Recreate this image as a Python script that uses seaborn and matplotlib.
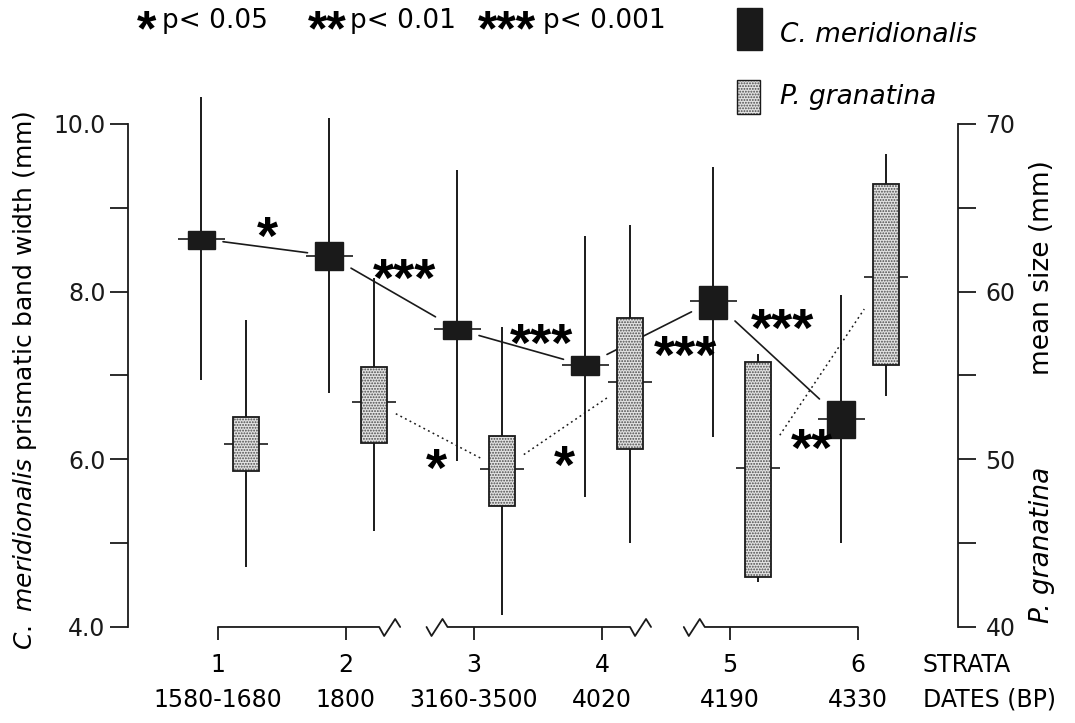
import matplotlib
matplotlib.use("Agg")
import matplotlib.pyplot as plt
import matplotlib.transforms as mtransforms
from matplotlib.patches import Rectangle
import seaborn as sns
import numpy as np

# strata and radiocarbon dates
strata = [1, 2, 3, 4, 5, 6]
dates = ["1580-1680", "1800", "3160-3500", "4020", "4190", "4330"]

# C. meridionalis prismatic band width (mm), left axis
cm_mean = [8.63, 8.43, 7.55, 7.12, 7.89, 6.48]
cm_low = [8.51, 8.26, 7.44, 7.01, 7.67, 6.25]
cm_high = [8.72, 8.59, 7.65, 7.23, 8.07, 6.70]
cm_min = [6.95, 6.79, 5.98, 5.55, 6.27, 5.00]
cm_max = [10.32, 10.07, 9.45, 8.66, 9.49, 7.96]

# P. granatina mean size (mm), right axis
pg_mean = [50.9, 53.4, 49.4, 54.6, 49.5, 60.9]
pg_low = [49.3, 51.0, 47.2, 50.6, 43.0, 55.6]
pg_high = [52.5, 55.5, 51.4, 58.4, 55.8, 66.4]
pg_min = [43.6, 45.7, 40.7, 45.0, 42.7, 53.8]
pg_max = [58.3, 60.8, 57.9, 64.0, 56.3, 68.2]

# significant differences between successive strata
cm_links = [(1, 2), (2, 3), (3, 4), (4, 5), (5, 6)]
pg_links = [(2, 3), (3, 4), (5, 6)]
sig_x = [1.39, 2.46, 2.71, 3.53, 3.71, 4.65, 5.41, 5.64]
sig_y = [8.76, 8.26, 5.99, 7.48, 6.03, 7.34, 7.66, 6.23]
sig_text = ["*", "***", "*", "***", "*", "***", "***", "**"]

sns.set_theme(style="ticks")
plt.rcParams["font.family"] = ["DejaVu Sans"]
plt.rcParams["mathtext.fontset"] = "dejavusans"
plt.rcParams["hatch.linewidth"] = 0.9
plt.rcParams["text.color"] = "black"
plt.rcParams["axes.labelcolor"] = "black"

STAR_FONT = ["Liberation Sans", "DejaVu Sans"]


def star(ax, x, y, text, size, **kw):
    # asterisks sit high in the em box: drop the baseline so the glyph centres on (x, y)
    return ax.annotate(text, (x, y), xytext=(0, -0.48 * size), textcoords="offset points",
                       ha=kw.pop("ha", "center"), va="baseline", fontsize=size, color="black",
                       fontweight="bold", family=STAR_FONT, annotation_clip=False, **kw)


fig = plt.figure(figsize=(10.75, 7.23), dpi=100)
ax = fig.add_axes([0.119, 0.1328, 0.772, 0.6957])
ax2 = ax.twinx()
ax.set_xlim(0.297, 6.781)
ax.set_ylim(4, 10)
ax2.set_ylim(40, 70)

cm_off, pg_off = -0.13, 0.22
cm_w, pg_w = 0.215, 0.205
gap = 0.17
stipple = "#e2e2e2"

# C. meridionalis: whiskers, filled boxes, mean ticks
cm_x = np.array(strata) + cm_off
ax.vlines(cm_x, cm_min, cm_max, color="k", lw=1.4, zorder=2, clip_on=False)
for x, lo, hi, m in zip(cm_x, cm_low, cm_high, cm_mean):
    ax.add_patch(Rectangle((x - cm_w / 2, lo), cm_w, hi - lo, fc="k", ec="k", lw=1, zorder=3))
    ax.hlines(m, x - 0.185, x + 0.185, color="k", lw=1.2, zorder=3)
for a, b in cm_links:
    xa, xb = cm_x[a - 1], cm_x[b - 1]
    xs = np.array([xa + gap, xb - gap])
    ax.plot(xs, np.interp(xs, [xa, xb], [cm_mean[a - 1], cm_mean[b - 1]]),
            color="k", lw=1.2, zorder=1)

# P. granatina: whiskers, stippled boxes, mean ticks
pg_x = np.array(strata) + pg_off
ax2.vlines(pg_x, pg_min, pg_max, color="k", lw=1.4, zorder=2, clip_on=False)
for x, lo, hi, m in zip(pg_x, pg_low, pg_high, pg_mean):
    ax2.add_patch(Rectangle((x - pg_w / 2, lo), pg_w, hi - lo, fc=stipple, ec="#4a4a4a",
                            hatch="......", lw=0, zorder=3))
    ax2.add_patch(Rectangle((x - pg_w / 2, lo), pg_w, hi - lo, fill=False, ec="k", lw=1.3, zorder=4))
    ax2.hlines(m, x - 0.17, x + 0.17, color="k", lw=1.2, zorder=2)
for a, b in pg_links:
    xa, xb = pg_x[a - 1], pg_x[b - 1]
    xs = np.array([xa + gap, xb - gap])
    ax2.plot(xs, np.interp(xs, [xa, xb], [pg_mean[a - 1], pg_mean[b - 1]]),
             color="k", lw=1.1, ls=(0, (1.2, 2.2)), zorder=1)

for x, y, t in zip(sig_x, sig_y, sig_text):
    star(ax, x, y, t, 39, zorder=5)

# axes styling
sns.despine(ax=ax, top=True, right=True, bottom=True)
for side in ["left", "top", "bottom"]:
    ax2.spines[side].set_visible(False)
for a in (ax, ax2):
    for s in a.spines.values():
        s.set_linewidth(1.3)
        s.set_color("k")
ax.set_yticks([4, 6, 8, 10], ["4.0", "6.0", "8.0", "10.0"])
ax.set_yticks([5, 7, 9], minor=True)
ax2.set_yticks([40, 50, 60, 70], ["40", "50", "60", "70"])
ax2.set_yticks([45, 55, 65], minor=True)
ax.tick_params(axis="y", which="both", length=13, width=1.3, direction="out",
               colors="k", labelsize=17, pad=3, left=True, right=False)
ax2.tick_params(axis="y", which="both", length=13, width=1.3, direction="out",
                colors="k", labelsize=17, pad=7, right=True, left=False,
                labelright=True, labelleft=False)
ax.set_xticks(strata, [""] * 6)
ax.tick_params(axis="x", length=9, width=1.3, direction="out", colors="k")
ax.grid(False)
ax2.grid(False)

# broken strata axis
px_x, px_y = 1 / 128, 1 / 83.83
zig = [(0, 0), (5, -9), (16, 8), (21, 0)]
breaks = [(2.26, 2.63), (4.22, 4.64)]
starts = [1] + [b[1] for b in breaks]
ends = [b[0] for b in breaks] + [6]
for i, (s, e) in enumerate(zip(starts, ends)):
    xs, ys = [], []
    if i > 0:
        xs += [s + dx * px_x for dx, dy in zig]
        ys += [4 + dy * px_y for dx, dy in zig]
    else:
        xs.append(s)
        ys.append(4)
    xs.append(e)
    ys.append(4)
    if i < len(breaks):
        xs += [e + dx * px_x for dx, dy in zig]
        ys += [4 + dy * px_y for dx, dy in zig]
    ax.plot(xs, ys, color="k", lw=1.3, clip_on=False, zorder=1)

blend = mtransforms.blended_transform_factory(ax.transData, fig.transFigure)
for s, d in zip(strata, dates):
    ax.text(s, 1 - 665 / 723, str(s), transform=blend, ha="center", va="center", fontsize=17)
    ax.text(s, 1 - 700 / 723, d, transform=blend, ha="center", va="center", fontsize=17)
fig.text(923 / 1075, 1 - 665 / 723, "STRATA", ha="left", va="center", fontsize=17)
fig.text(923 / 1075, 1 - 700 / 723, "DATES (BP)", ha="left", va="center", fontsize=17)

# axis titles
fig.text(25 / 1075, 1 - 380 / 723, r"$\it{C.\ meridionalis}$ prismatic band width (mm)",
         rotation=90, ha="center", va="center", fontsize=18)
fig.text(1042 / 1075, 1 - 545 / 723, "P. granatina", style="italic",
         rotation=90, ha="center", va="center", fontsize=19)
fig.text(1042 / 1075, 1 - 268 / 723, "mean size (mm)",
         rotation=90, ha="center", va="center", fontsize=19)

# significance key
key = [(137, 162, "*", "p< 0.05"), (308, 350, "**", "p< 0.01"), (478, 543, "***", "p< 0.001")]
for px, tx, stars, lab in key:
    star(ax, px / 1075, 1 - 21 / 723, stars, 36, ha="left", xycoords="figure fraction")
    fig.text(tx / 1075, 1 - 21 / 723, lab, ha="left", va="center", fontsize=19)

# species legend
fig.add_artist(Rectangle((737 / 1075, 1 - 50 / 723), 25 / 1075, 42 / 723, transform=fig.transFigure,
                         fc="k", ec="k"))
fig.text(780 / 1075, 1 - 35 / 723, "C. meridionalis", style="italic", ha="left", va="center", fontsize=19)
fig.add_artist(Rectangle((737 / 1075, 1 - 114 / 723), 23 / 1075, 34 / 723, transform=fig.transFigure,
                         fc=stipple, ec="#4a4a4a", hatch="......", lw=0))
fig.add_artist(Rectangle((737 / 1075, 1 - 114 / 723), 23 / 1075, 34 / 723, transform=fig.transFigure,
                         fill=False, ec="k", lw=1))
fig.text(780 / 1075, 1 - 97 / 723, "P. granatina", style="italic", ha="left", va="center", fontsize=19)

fig.savefig("out.png", dpi=100)
